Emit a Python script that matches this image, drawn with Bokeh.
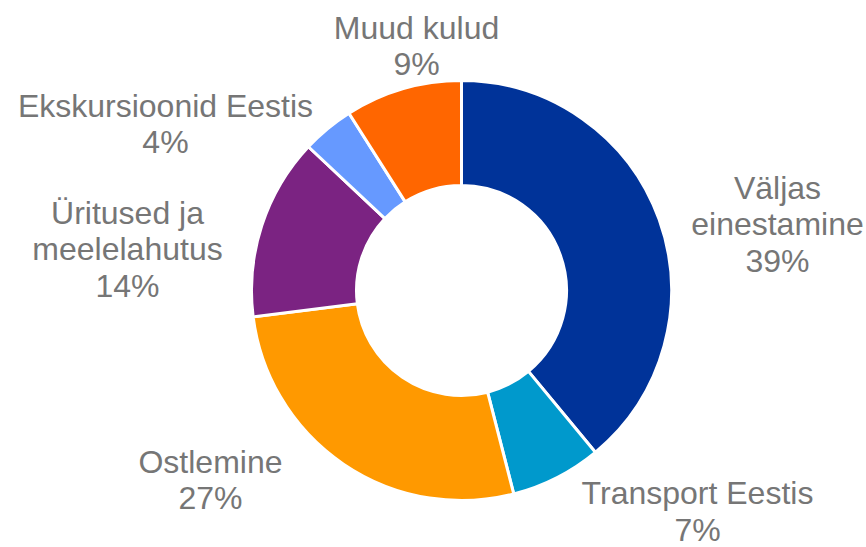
import numpy as np
from bokeh.plotting import figure
from bokeh.models import ColumnDataSource, Range1d
from bokeh.core.properties import value
from bokeh.embed import file_html
from bokeh.resources import INLINE

categories = ["Väljas einestamine", "Transport Eestis", "Ostlemine",
              "Üritused ja meelelahutus", "Ekskursioonid Eestis", "Muud kulud"]
shares = [39, 7, 27, 14, 4, 9]
label_text = ["Väljas\neinestamine\n39%", "Transport Eestis\n7%", "Ostlemine\n27%",
              "Üritused ja\nmeelelahutus\n14%", "Ekskursioonid Eestis\n4%", "Muud kulud\n9%"]
colors = ["#003399", "#0099CC", "#FF9900", "#7B2382", "#6699FF", "#FF6600"]

# layout (pixel-based data space)
W, H = 866, 547
cx, cy = 461, 257
r_out, r_in = 210, 105
label_pos = [(777, 323), (697, 36), (210, 67.5), (127, 298), (165, 423.5), (416, 501.5)]

vals = np.array(shares, dtype=float)
frac = vals / vals.sum()
cum = np.concatenate([[0], np.cumsum(frac)])
start = np.pi / 2 - cum[:-1] * 2 * np.pi
end = np.pi / 2 - cum[1:] * 2 * np.pi

src = ColumnDataSource(dict(start=start, end=end, color=colors, cat=categories))

p = figure(width=W, height=H, output_backend="svg", toolbar_location=None,
           x_range=Range1d(0, W), y_range=Range1d(0, H), min_border=0)
p.axis.visible = False
p.grid.visible = False
p.outline_line_color = None

p.annular_wedge(x=cx, y=cy, inner_radius=r_in, outer_radius=r_out,
                start_angle="start", end_angle="end", direction="clock",
                fill_color="color", line_color="white", line_width=3, source=src)

lsrc = ColumnDataSource(dict(x=[a for a, b in label_pos], y=[b for a, b in label_pos], t=label_text))
p.text(x="x", y="y", text="t", source=lsrc, text_align="center", text_baseline="middle",
       text_font=value("Liberation Sans"), text_font_size="32px", text_color="#767676",
       text_line_height=1.02)

open("out.html", "w").write(file_html(p, INLINE))
